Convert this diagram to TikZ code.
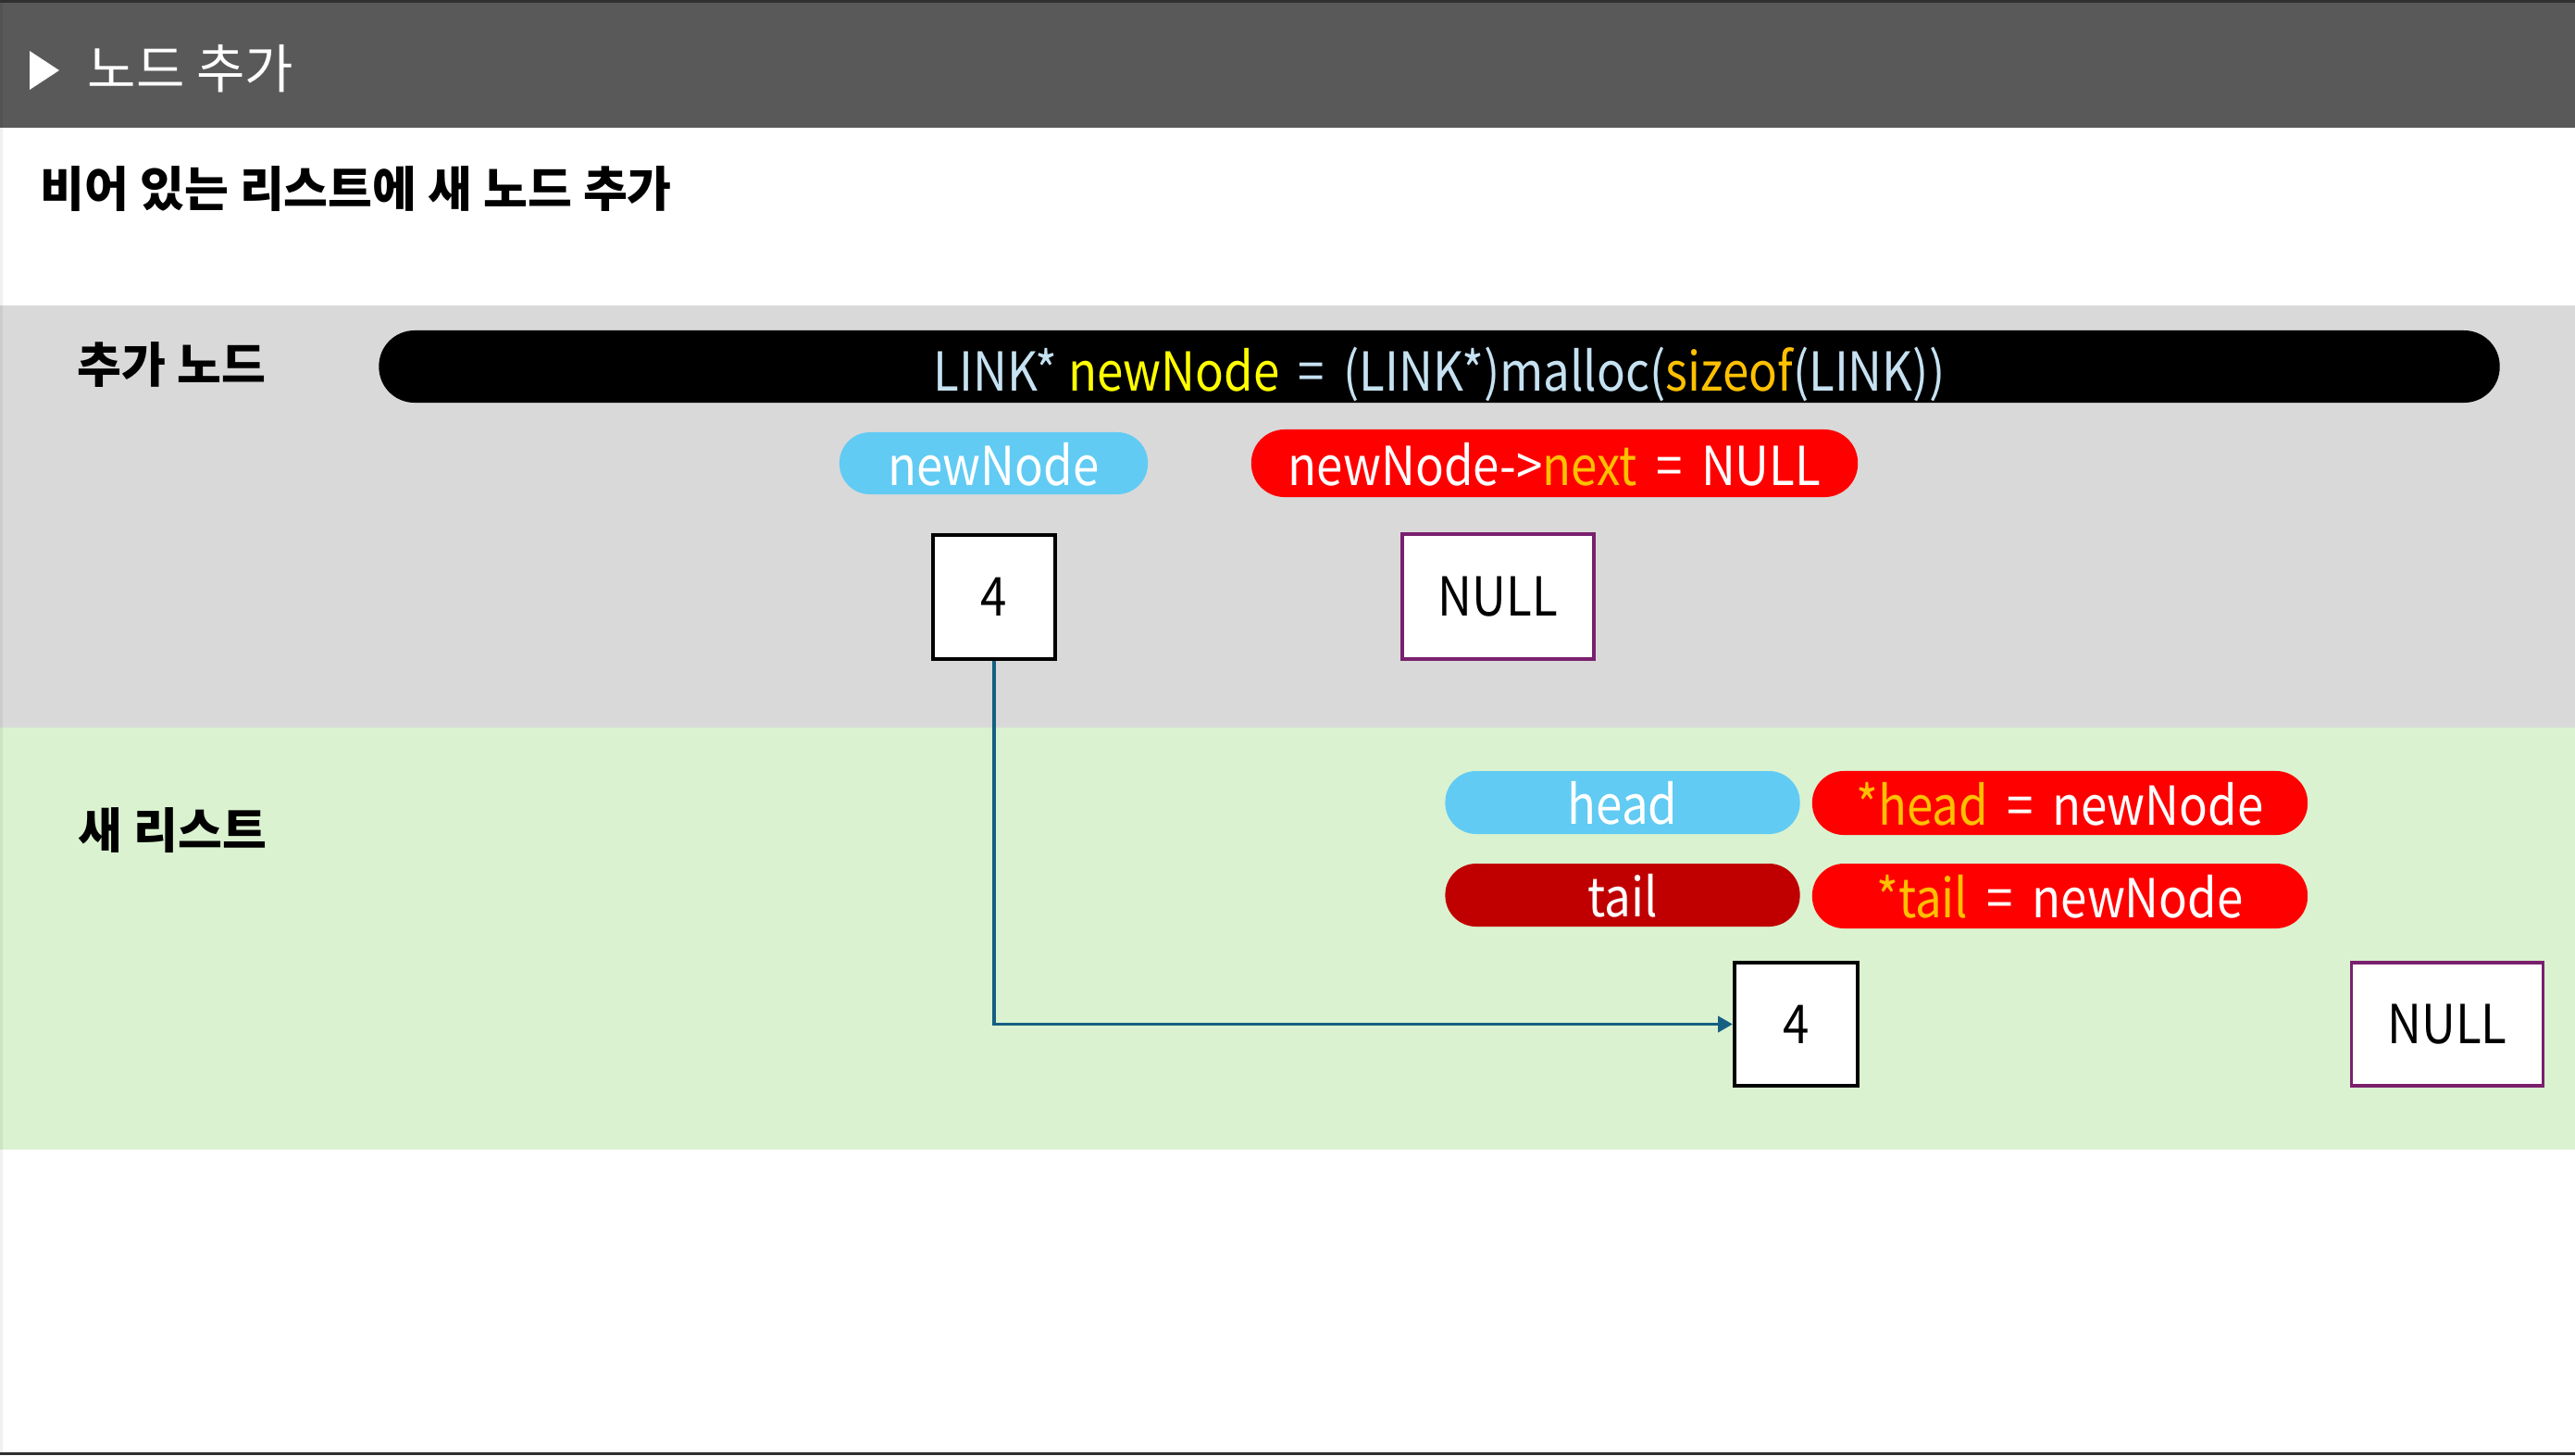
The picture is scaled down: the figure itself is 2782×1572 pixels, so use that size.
\documentclass[tikz,border=0pt]{standalone}
\usepackage{fontspec}
\setmainfont{Noto Sans CJK KR}
\newfontfamily\latinfont[FakeStretch=0.88]{Noto Sans CJK KR}
\usetikzlibrary{arrows.meta}
\definecolor{hdr}{HTML}{595959}
\definecolor{hdrtop}{HTML}{303030}
\definecolor{bandgray}{HTML}{D9D9D9}
\definecolor{bandgreen}{HTML}{DAF2D0}
\definecolor{pillblue}{HTML}{61CBF3}
\definecolor{codeblue}{HTML}{C6E2F2}
\definecolor{codeyel}{HTML}{FFFF00}
\definecolor{codeorg}{HTML}{FFC000}
\definecolor{darkred}{HTML}{C00000}
\definecolor{connblue}{HTML}{156082}
\definecolor{nullpurp}{HTML}{7A206E}
\newcommand{\szA}{\latinfont\fontsize{16.5pt}{19pt}\selectfont}
\newcommand{\szK}{\fontsize{14.8pt}{17pt}\selectfont}
\newcommand{\szT}{\fontsize{16.2pt}{19pt}\selectfont}
\newcommand{\eq}{\hspace{0.35em}=\hspace{0.35em}}
\tikzset{
  pill/.style={inner sep=0pt, text=white, font=\szA, text height=13.5pt, text depth=0pt},
  valbox/.style={draw=black, line width=1.15pt, fill=white, inner sep=0pt, font=\szA},
  nullbox/.style={draw=nullpurp, line width=1pt, fill=white, inner sep=0pt, font=\szA},
  seclabel/.style={anchor=west, inner sep=0pt, font=\szK\bfseries},
  conn/.style={draw=connblue, line width=1.1pt, -{Triangle[length=4.5pt,width=4.8pt]}}
}
\begin{document}
\begin{tikzpicture}[x=0.01cm,y=-0.01cm]
\useasboundingbox (0,0) rectangle (2782,1572);
% backgrounds
\fill[white] (0,0) rectangle (2782,1572);
\fill[hdr] (0,0) rectangle (2782,138);
\fill[hdrtop] (0,0) rectangle (2782,3);
\fill[bandgray] (0,330) rectangle (2782,786);
\fill[bandgreen] (0,786) rectangle (2782,1242);
\fill[black,opacity=0.06] (0,3) rectangle (3,1569);
\fill[hdrtop] (0,1569) rectangle (2782,1572);
% header
\fill[white] (32,55) -- (32,97) -- (64,76) -- cycle;
\node[anchor=west, inner sep=0pt, text=white, font=\szT] (title) at (94,74) {노드 추가};
\node[anchor=west, inner sep=0pt, font=\szK\bfseries] (sub) at (43,204) {비어 있는 리스트에 새 노드 추가};
% section labels
\node[seclabel] (lab1) at (83,394) {추가 노드};
\node[seclabel] (lab2) at (84,897) {새 리스트};
% code pill
\node[pill, text height=14.8pt, fill=black, minimum width=22.90cm, minimum height=0.78cm, rounded corners=0.385cm] (code) at (1555,396)
  {\textcolor{codeblue}{LINK*} \textcolor{codeyel}{newNode}\textcolor{codeblue}{\eq(LINK*)malloc(}\textcolor{codeorg}{sizeof}\textcolor{codeblue}{(LINK))}};
\node[pill, fill=pillblue, minimum width=3.33cm, minimum height=0.67cm, rounded corners=0.33cm] (np) at (1073.5,500.5) {newNode};
\node[pill, fill=red, minimum width=6.55cm, minimum height=0.73cm, rounded corners=0.36cm] (rp) at (1679.5,500.5)
  {newNode->\textcolor{codeorg}{next}\eq NULL};
% top boxes
\node[valbox, minimum width=1.32cm, minimum height=1.34cm] (b4) at (1074,645) {4};
\node[nullbox, minimum width=2.07cm, minimum height=1.35cm] (n1) at (1618.5,644.5) {NULL};
% new list pills
\node[pill, fill=pillblue, minimum width=3.83cm, minimum height=0.68cm, rounded corners=0.335cm] (hp) at (1753,867) {head};
\node[pill, fill=darkred, minimum width=3.83cm, minimum height=0.68cm, rounded corners=0.335cm] (tp) at (1753,967) {tail};
\node[pill, fill=red, minimum width=5.35cm, minimum height=0.69cm, rounded corners=0.34cm] (rh) at (2225.5,867.5)
  {\textcolor{codeorg}{*head}\eq newNode};
\node[pill, fill=red, minimum width=5.35cm, minimum height=0.70cm, rounded corners=0.345cm] (rt) at (2225.5,968)
  {\textcolor{codeorg}{*tail}\eq newNode};
% lower boxes
\node[valbox, minimum width=1.33cm, minimum height=1.33cm] (c4) at (1940.5,1106.5) {4};
\node[nullbox, minimum width=2.07cm, minimum height=1.33cm] (n2) at (2644,1106.5) {NULL};
% connector
\draw[conn] (b4.south) |- (c4.west);
\end{tikzpicture}
\end{document}
